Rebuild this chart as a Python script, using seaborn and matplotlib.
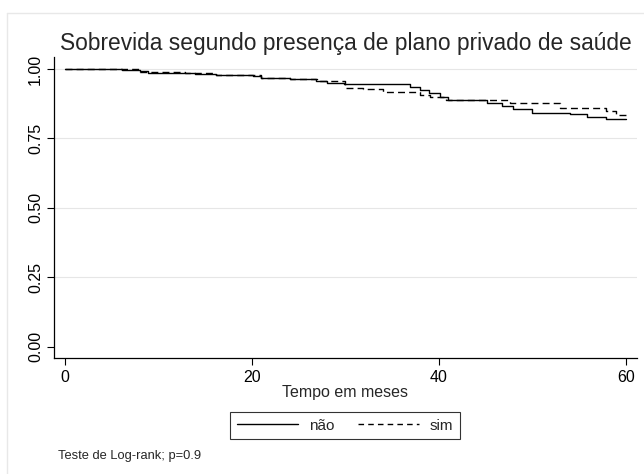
#!/usr/bin/env python3
import matplotlib
matplotlib.use("Agg")
import matplotlib.pyplot as plt
from matplotlib.lines import Line2D
import pandas as pd
import seaborn as sns

# Kaplan-Meier - tempo em meses, sobrevida após o degrau
tempo_nao = [0, 6.1, 8.0, 8.9, 13.9, 16.2, 20.1, 21.0, 24.1, 26.9, 28.0, 29.9,
             36.9, 38.0, 38.9, 40.1, 41.0, 45.1, 46.8, 47.9, 50.0, 54.0, 55.8,
             57.9, 60.0]
surv_nao = [1.0, 0.996, 0.992, 0.987, 0.982, 0.978, 0.975, 0.968, 0.963, 0.958,
            0.951, 0.945, 0.934, 0.924, 0.912, 0.900, 0.888, 0.876, 0.867, 0.855,
            0.843, 0.838, 0.828, 0.820, 0.820]

tempo_sim = [0, 8.0, 12.8, 16.2, 21.0, 24.1, 27.0, 30.0, 31.9, 34.0, 38.0, 39.0,
             40.8, 47.6, 53.0, 57.9, 59.0, 60.0]
surv_sim = [1.0, 0.990, 0.987, 0.979, 0.968, 0.962, 0.955, 0.930, 0.927, 0.918,
            0.906, 0.898, 0.888, 0.879, 0.858, 0.849, 0.834, 0.822]

grupos = ["não", "sim"]
y_ticks = [0.00, 0.25, 0.50, 0.75, 1.00]
x_ticks = [0, 20, 40, 60]

df_nao = pd.DataFrame({"tempo": tempo_nao, "sobrevida": surv_nao})
df_sim = pd.DataFrame({"tempo": tempo_sim, "sobrevida": surv_sim})

sns.set_style("white")
plt.rcParams["font.family"] = ["Liberation Sans", "DejaVu Sans"]

fig = plt.figure(figsize=(6.44, 4.74), dpi=100)
ax = fig.add_axes([54 / 644, 1 - 358 / 474, 583 / 644, 301 / 474])

# grade horizontal clara (estilo Stata)
for yv in y_ticks[1:]:
    ax.axhline(yv, color="#e6e6e6", lw=0.8, zorder=0)

sns.lineplot(data=df_nao, x="tempo", y="sobrevida", ax=ax, color="black",
             lw=1.0, drawstyle="steps-post", estimator=None, sort=False)
sns.lineplot(data=df_sim, x="tempo", y="sobrevida", ax=ax, color="black",
             lw=1.0, drawstyle="steps-post", estimator=None, sort=False,
             linestyle=(0, (5, 3)))

ax.set_xlim(-1.18, 61.2)
ax.set_ylim(-0.041, 1.043)
ax.set_xticks(x_ticks)
ax.set_yticks(y_ticks)
ax.set_yticklabels([f"{v:.2f}" for v in y_ticks], rotation=90, va="center")
ax.tick_params(axis="both", direction="out", length=5, width=0.8,
               labelsize=11.5, colors="black", bottom=True, left=True)
ax.tick_params(axis="x", pad=4)
ax.tick_params(axis="y", pad=3)
ax.set_xlabel("Tempo em meses", fontsize=11.5, labelpad=0)
ax.set_ylabel("")
ax.set_title("Sobrevida segundo presença de plano privado de saúde",
             fontsize=16.4, pad=5)

sns.despine(ax=ax)
for s in ["left", "bottom"]:
    ax.spines[s].set_color("black")
    ax.spines[s].set_linewidth(0.9)

handles = [Line2D([], [], color="black", lw=1.0),
           Line2D([], [], color="black", lw=1.0, linestyle=(0, (4, 3)))]
leg = fig.legend(handles, grupos, loc="center", ncol=2,
                 bbox_to_anchor=(345 / 644, 1 - 425.5 / 474), fontsize=11,
                 handlelength=4.0, columnspacing=1.57, frameon=True,
                 fancybox=False, edgecolor="black", borderpad=0.45,
                 handletextpad=0.7)
leg.get_frame().set_linewidth(0.8)

fig.text(58 / 644, 1 - 456 / 474, "Teste de Log-rank; p=0.9", fontsize=9.3,
         va="center", ha="left")

# contorno claro da região do gráfico
fig.add_artist(Line2D([7 / 644, 7 / 644], [0, 1 - 13 / 474],
                      transform=fig.transFigure, color="#e8e8e8", lw=1))
fig.add_artist(Line2D([7 / 644, 1], [1 - 13 / 474, 1 - 13 / 474],
                      transform=fig.transFigure, color="#e8e8e8", lw=1))

fig.savefig("out.png", dpi=100)
